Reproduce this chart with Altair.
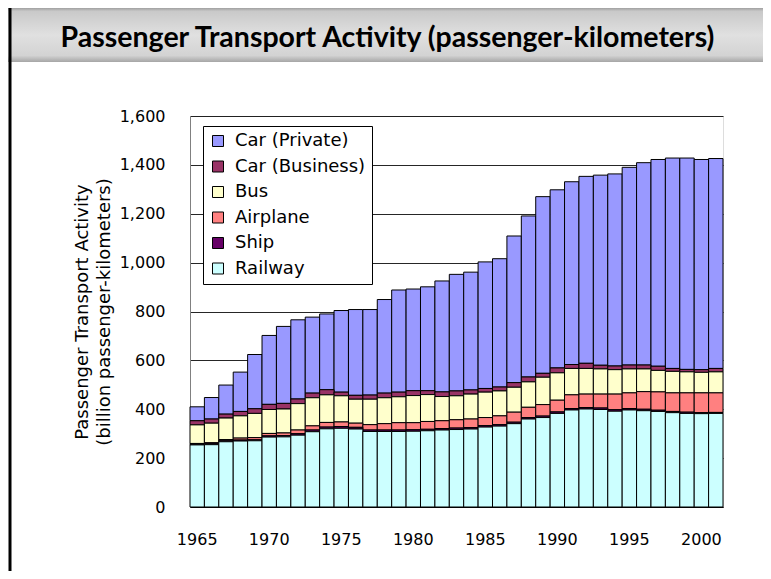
import altair as alt
import pandas as pd

years = list(range(1965, 2002))
railway = [254, 255, 267, 270, 271, 286, 287, 294, 308, 320, 322, 319, 309, 309, 309,
           310, 312, 315, 317, 319, 327, 331, 341, 360, 366, 383, 397, 401, 399, 392,
           397, 394, 391, 386, 383, 382, 383]
ship = [3, 4, 4, 4, 4, 5, 5, 6, 7, 7, 7, 7, 6, 6, 6, 6, 6, 6, 6, 6, 6, 6, 6, 6, 6,
        6, 6, 6, 6, 6, 6, 6, 5, 5, 5, 4, 4]
airplane = [3, 4, 5, 8, 9, 10, 11, 15, 17, 19, 19, 17, 22, 26, 30, 29, 32, 32, 34, 35,
            33, 36, 41, 42, 47, 48, 56, 55, 57, 64, 64, 72, 75, 76, 79, 81, 80]
bus = [76, 80, 88, 91, 99, 98, 98, 108, 115, 113, 107, 98, 104, 106, 106, 111, 110, 99,
       98, 102, 104, 102, 102, 104, 112, 112, 108, 105, 103, 100, 98, 93, 88, 88, 86,
       84, 86]
car_business = [17, 17, 16, 18, 19, 21, 23, 19, 19, 21, 15, 16, 17, 19, 19, 20, 16, 19,
                20, 17, 15, 16, 19, 20, 16, 20, 16, 21, 15, 15, 16, 16, 17, 12, 10, 11, 14]
car_private = [57, 88, 119, 161, 222, 282, 315, 324, 311, 310, 334, 351, 350, 383, 418,
               416, 425, 454, 477, 482, 518, 525, 600, 659, 723, 729, 748, 765, 778, 786,
               809, 828, 846, 861, 865, 860, 859]

series_names = ["Car (Private)", "Car (Business)", "Bus", "Airplane", "Ship", "Railway"]
series_colors = ["#9999FF", "#993366", "#FFFFCC", "#FF8080", "#660066", "#CCFFFF"]
series_values = [car_private, car_business, bus, airplane, ship, railway]
stack_order = [5, 4, 3, 2, 1, 0]
y_ticks = [0, 200, 400, 600, 800, 1000, 1200, 1400, 1600]

rows = []
for name, vals, order in zip(series_names, series_values, stack_order):
    for yr, v in zip(years, vals):
        rows.append({"year": yr, "mode": name, "value": v, "order": order})
df = pd.DataFrame(rows)

W, H = 533, 391

band = alt.Chart(pd.DataFrame({"a": [0]})).mark_rect(
    color=alt.Gradient(
        gradient="linear", x1=0, x2=0, y1=0, y2=1,
        stops=[
            alt.GradientStop(offset=0, color="#a0a0a0"),
            alt.GradientStop(offset=0.06, color="#c9c9c9"),
            alt.GradientStop(offset=0.5, color="#e0e0e0"),
            alt.GradientStop(offset=0.88, color="#d3d3d3"),
            alt.GradientStop(offset=1, color="#a6a6a6"),
        ],
    )
).encode(
    x=alt.value(-182), x2=alt.value(W + 40),
    y=alt.value(-108), y2=alt.value(-54),
)

border = alt.Chart(pd.DataFrame({"a": [0]})).mark_rule(
    color="#000000", strokeWidth=3
).encode(
    x=alt.value(-180), y=alt.value(-108), y2=alt.value(H + 64)
)

bars = alt.Chart(df).mark_bar(stroke="#000000", strokeWidth=1).encode(
    x=alt.X(
        "year:O",
        scale=alt.Scale(paddingInner=0, paddingOuter=0),
        axis=alt.Axis(
            title=None, labelAngle=0, ticks=False, grid=False,
            labelExpr="datum.value % 5 == 0 ? datum.label : ''",
            labelFont="DejaVu Sans", labelFontSize=16, labelColor="#000000",
            labelPadding=24, domainColor="#000000",
        ),
    ),
    y=alt.Y(
        "value:Q",
        stack="zero",
        scale=alt.Scale(domain=[0, 1600], nice=False),
        axis=alt.Axis(
            values=y_ticks, format=",d", ticks=False,
            labelFont="DejaVu Sans", labelFontSize=16, labelColor="#000000",
            labelPadding=25, domainColor="#808080",
            gridColor="#000000", gridOpacity=0.85, gridWidth=1,
            title=["Passenger Transport Activity", "(billion passenger-kilometers)"],
            titleFont="DejaVu Sans", titleFontSize=18, titleFontWeight="normal",
            titleColor="#000000", titleLineHeight=22, titleAngle=270,
            titleBaseline="middle", titleAlign="center",
            titleX=-108, titleY=H / 2,
        ),
    ),
    color=alt.Color(
        "mode:N",
        scale=alt.Scale(domain=series_names, range=series_colors),
        legend=alt.Legend(
            title=None, orient="none", legendX=13, legendY=10,
            fillColor="#FFFFFF", strokeColor="#000000", padding=6,
            symbolType="square", symbolSize=121, symbolStrokeColor="#000000",
            symbolStrokeWidth=1, symbolOpacity=1,
            labelFont="DejaVu Sans", labelFontSize=18, labelColor="#000000",
            rowPadding=7.5, labelOffset=8, labelLimit=300,
        ),
    ),
    order=alt.Order("order:Q", sort="ascending"),
)

chart = alt.layer(band, border, bars).properties(
    width=W, height=H,
    autosize=alt.AutoSizeParams(type="none"),
    padding={"left": 182, "top": 108, "right": 40, "bottom": 64},
    title=alt.TitleParams(
        "Passenger Transport Activity (passenger-kilometers)",
        font="Lato", fontSize=28.5, fontWeight="bold", color="#000000",
        anchor="middle", frame="group", baseline="alphabetic",
        offset=0, dx=-69, dy=69,
    ),
).configure_view(
    fill="#C0C0C0", stroke="#808080", strokeWidth=1
).configure(background="#FFFFFF")

chart.save("out.html", embed_options={"renderer": "svg", "actions": False})
